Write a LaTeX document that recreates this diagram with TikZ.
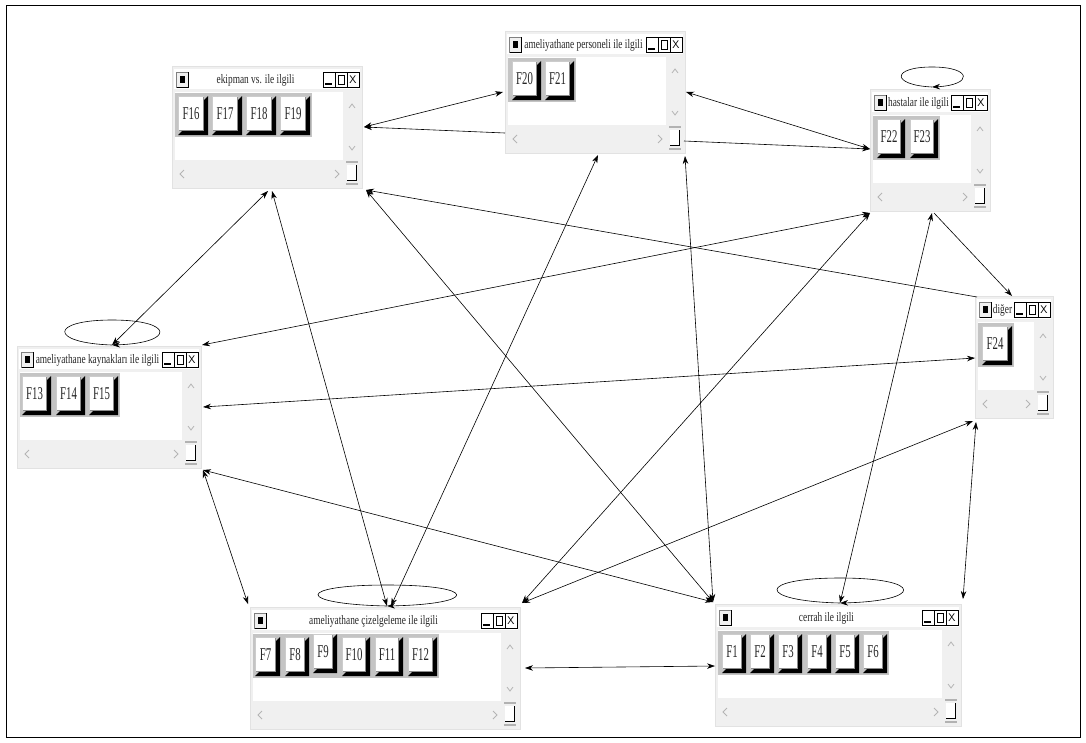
\documentclass[tikz,border=0pt]{standalone}
\usepackage{fontspec}
\setmainfont{Liberation Serif}
\usetikzlibrary{arrows.meta,calc}
\definecolor{winbg}{HTML}{F0F0F0}
\definecolor{panelgray}{HTML}{C4C4C4}
\definecolor{chevgray}{HTML}{B4B4B4}
\definecolor{edgegray}{HTML}{E2E2E2}
\tikzset{
  titletext/.style={font=\fontsize{13}{13}\selectfont, inner sep=0pt, xscale=0.72, text=black!85},
  btntext/.style={font=\fontsize{18}{18}\selectfont, inner sep=0pt, xscale=0.6, text=black!85},
  chevline/.style={draw=chevgray, line width=0.8pt},
  conn/.style={line width=0.6pt, {Stealth[length=8pt,width=5.5pt]}-{Stealth[length=8pt,width=5.5pt]}},
  connone/.style={line width=0.6pt, -{Stealth[length=8pt,width=5.5pt]}},
  loopline/.style={line width=0.6pt, -{Stealth[length=8pt,width=5.5pt]}},
}
% #1 name, #2 X, #3 Y, #4 W, #5 H, #6 title, #7 panel right, #8 buttons
\newcommand\win[8]{%
\begin{scope}[shift={(#2,#3)}]
  \node[fill=winbg, draw=edgegray, minimum width=#4pt, minimum height=#5pt, inner sep=0pt, outer sep=0pt, anchor=north west] (#1) at (0,0) {};
  \fill[white] (2,3) rectangle (#4-2,23);
  \fill[white] (3,26) rectangle (#4-19,#5-28);
  % title bar buttons
  \draw[black!50, fill=winbg] (4,6) rectangle (16,21);
  \draw[black, line width=1pt] (4.5,21) -- (16,21) -- (16,6);
  \fill[black] (8,10) rectangle (13,17);
  \foreach \o in {39,27,15} {\draw[black, fill=white, line width=0.7pt] (#4-\o,6) rectangle (#4-\o+12,21);}
  \fill[black] (#4-37,16.5) rectangle (#4-30,18.5);
  \draw[black, line width=0.7pt] (#4-24,9) rectangle (#4-18,18);
  \node[font=\sffamily\fontsize{11}{11}\selectfont, inner sep=0pt] (#1-x) at (#4-9,13.5) {X};
  \node[titletext] (#1-t) at ({(#4-23)/2},14) {#6};
  % scroll bars
  \draw[chevline] (#4-13,42) -- (#4-10,38) -- (#4-7,42);
  \draw[chevline] (#4-13,#5-42) -- (#4-10,#5-38) -- (#4-7,#5-42);
  \draw[chevline] (12,#5-18) -- (8,#5-14) -- (12,#5-10);
  \draw[chevline] (#4-27,#5-18) -- (#4-23,#5-14) -- (#4-27,#5-10);
  \fill[white] (#4-15,#5-23) rectangle (#4-6,#5-8);
  \draw[black, line width=0.8pt] (#4-15,#5-8) -- (#4-6,#5-8) -- (#4-6,#5-23);
  \draw[black!30, line width=1.5pt] (#4-16,#5-4) -- (#4-4,#5-4);
  \draw[black!30, line width=1.5pt] (#4-16,#5-26) -- (#4-4,#5-26);
  % buttons
  \fill[panelgray] (3,27) rectangle (#7,71);
  \foreach \lab/\bx/\bw/\by in {#8}{
    \fill[black] (\bx+\bw,30+\by) -- (\bx+\bw,69+\by) -- (\bx,69+\by) -- (\bx+4,65+\by) -- (\bx+\bw-4,65+\by) -- (\bx+\bw-4,34+\by) -- cycle;
    \fill[white] (\bx,30+\by) rectangle (\bx+\bw-4,65+\by);
    \draw[black!20, line width=1.2pt] (\bx+0.6,65+\by) -- (\bx+0.6,30.6+\by) -- (\bx+\bw-4,30.6+\by);
    \draw[black!45, line width=0.6pt] (\bx+\bw-5,31+\by) -- (\bx+\bw-5,64+\by) -- (\bx+1,64+\by);
    \node[btntext] (\lab) at ({\bx+(\bw-4)/2},{48+\by}) {\lab};
  }
\end{scope}}

\begin{document}
\begin{tikzpicture}[x=1pt,y=-1pt]
\useasboundingbox (0,0) rectangle (1086,742);
\fill[white] (0,0) rectangle (1086,742);
\draw[black, line width=1pt] (6,5) rectangle (1080,737);

\win{ekip}{172}{66}{190}{122}{ekipman vs. ile ilgili}{140}{F16/6/30/0, F17/40/30/0, F18/74/30/0, F19/108/30/0}
\win{pers}{505}{31}{180}{122}{ameliyathane personeli ile ilgili}{71}{F20/7/29/0, F21/40/29/0}
\win{hast}{870}{89}{120}{122}{hastalar ile ilgili}{70}{F22/7/28/0, F23/40/28/0}
\win{kayn}{17}{346}{184}{122}{ameliyathane kaynakları ile ilgili}{103}{F13/5/29/0, F14/39/29/0, F15/72/29/0}
\win{diger}{975}{296}{78}{122}{diğer}{39}{F24/7/30/0}
\win{cize}{250}{607}{270}{122}{ameliyathane çizelgeleme ile ilgili}{189}{F7/5/25/0, F8/35/24/0, F9/63/24/-3, F10/92/28/0, F11/125/28/0, F12/158/29/0}
\win{cerr}{715}{604}{246}{122}{cerrah ile ilgili}{174}{F1/7/24/0, F2/35/24/0, F3/63/24/0, F4/92/24/0, F5/120/24/0, F6/148/24/0}

% connector end points
\coordinate (ekR1) at (364,127);
\coordinate (peL1) at (503,92);
\coordinate (peL2) at (505,133);
\coordinate (peR1) at (686,92);
\coordinate (peR2) at (684,141);
\coordinate (haL1) at (870,149);
\coordinate (ekB1) at (366,190);
\coordinate (ceT1) at (713,602);
\coordinate (diT1) at (977,297);
\coordinate (ekB2) at (268,191);
\coordinate (kaT1) at (112,345);
\coordinate (ekB3) at (272,191);
\coordinate (ciT1) at (387,606);
\coordinate (peB1) at (598,155);
\coordinate (ciT2) at (391,606);
\coordinate (peB2) at (685,156);
\coordinate (haB1) at (870,213);
\coordinate (kaR1) at (202,345);
\coordinate (ciR1) at (522,603);
\coordinate (haB2) at (932,213);
\coordinate (ceT2) at (840,603);
\coordinate (haB3) at (934,213);
\coordinate (diT2) at (1012,296);
\coordinate (kaR2) at (203,407);
\coordinate (diL1) at (975,358);
\coordinate (kaR3) at (203,470);
\coordinate (ciL1) at (248,604);
\coordinate (ciR2) at (525,668);
\coordinate (ceL1) at (715,666);
\coordinate (diB1) at (973,421);
\coordinate (diB2) at (976,422);
\coordinate (ceR1) at (963,599);
\coordinate (haT) at (932,87);

% connectors
\draw[conn] (ekR1) -- (peL1);
\draw[connone] (peL2) -- (ekR1);
\draw[conn] (peR1) -- (haL1);
\draw[connone] (peR2) -- (haL1);
\draw[conn] (ekB1) -- (ceT1);
\draw[connone] (diT1) -- (ekB1);
\draw[conn] (ekB2) -- (kaT1);
\draw[conn] (ekB3) -- (ciT1);
\draw[conn] (peB1) -- (ciT2);
\draw[conn] (peB2) -- (ceT1);
\draw[conn] (haB1) -- (kaR1);
\draw[conn] (haB1) -- (ciR1);
\draw[conn] (haB2) -- (ceT2);
\draw[connone] (haB3) -- (diT2);
\draw[conn] (kaR2) -- (diL1);
\draw[conn] (kaR3) -- (ceT1);
\draw[conn] (kaR3) -- (ciL1);
\draw[conn] (ciR2) -- (ceL1);
\draw[conn] (diB1) -- (ciR1);
\draw[conn] (diB2) -- (ceR1);

% self loops
\draw[loopline] (haT) .. controls +(-41,-2) and +(-41,0) .. ($(haT)+(0,-20)$) .. controls +(41,0) and +(41,-2) .. (haT);
\draw[loopline] (kaT1) .. controls +(-63,-2) and +(-63,0) .. ($(kaT1)+(0,-25)$) .. controls +(63,0) and +(63,-2) .. (kaT1);
\draw[loopline] (ciT1) .. controls +(-92,-2) and +(-92,0) .. ($(ciT1)+(0,-21)$) .. controls +(92,0) and +(92,-2) .. (ciT1);
\draw[loopline] (ceT2) .. controls +(-84,-2) and +(-84,0) .. ($(ceT2)+(0,-25)$) .. controls +(84,0) and +(84,-2) .. (ceT2);
\end{tikzpicture}
\end{document}
